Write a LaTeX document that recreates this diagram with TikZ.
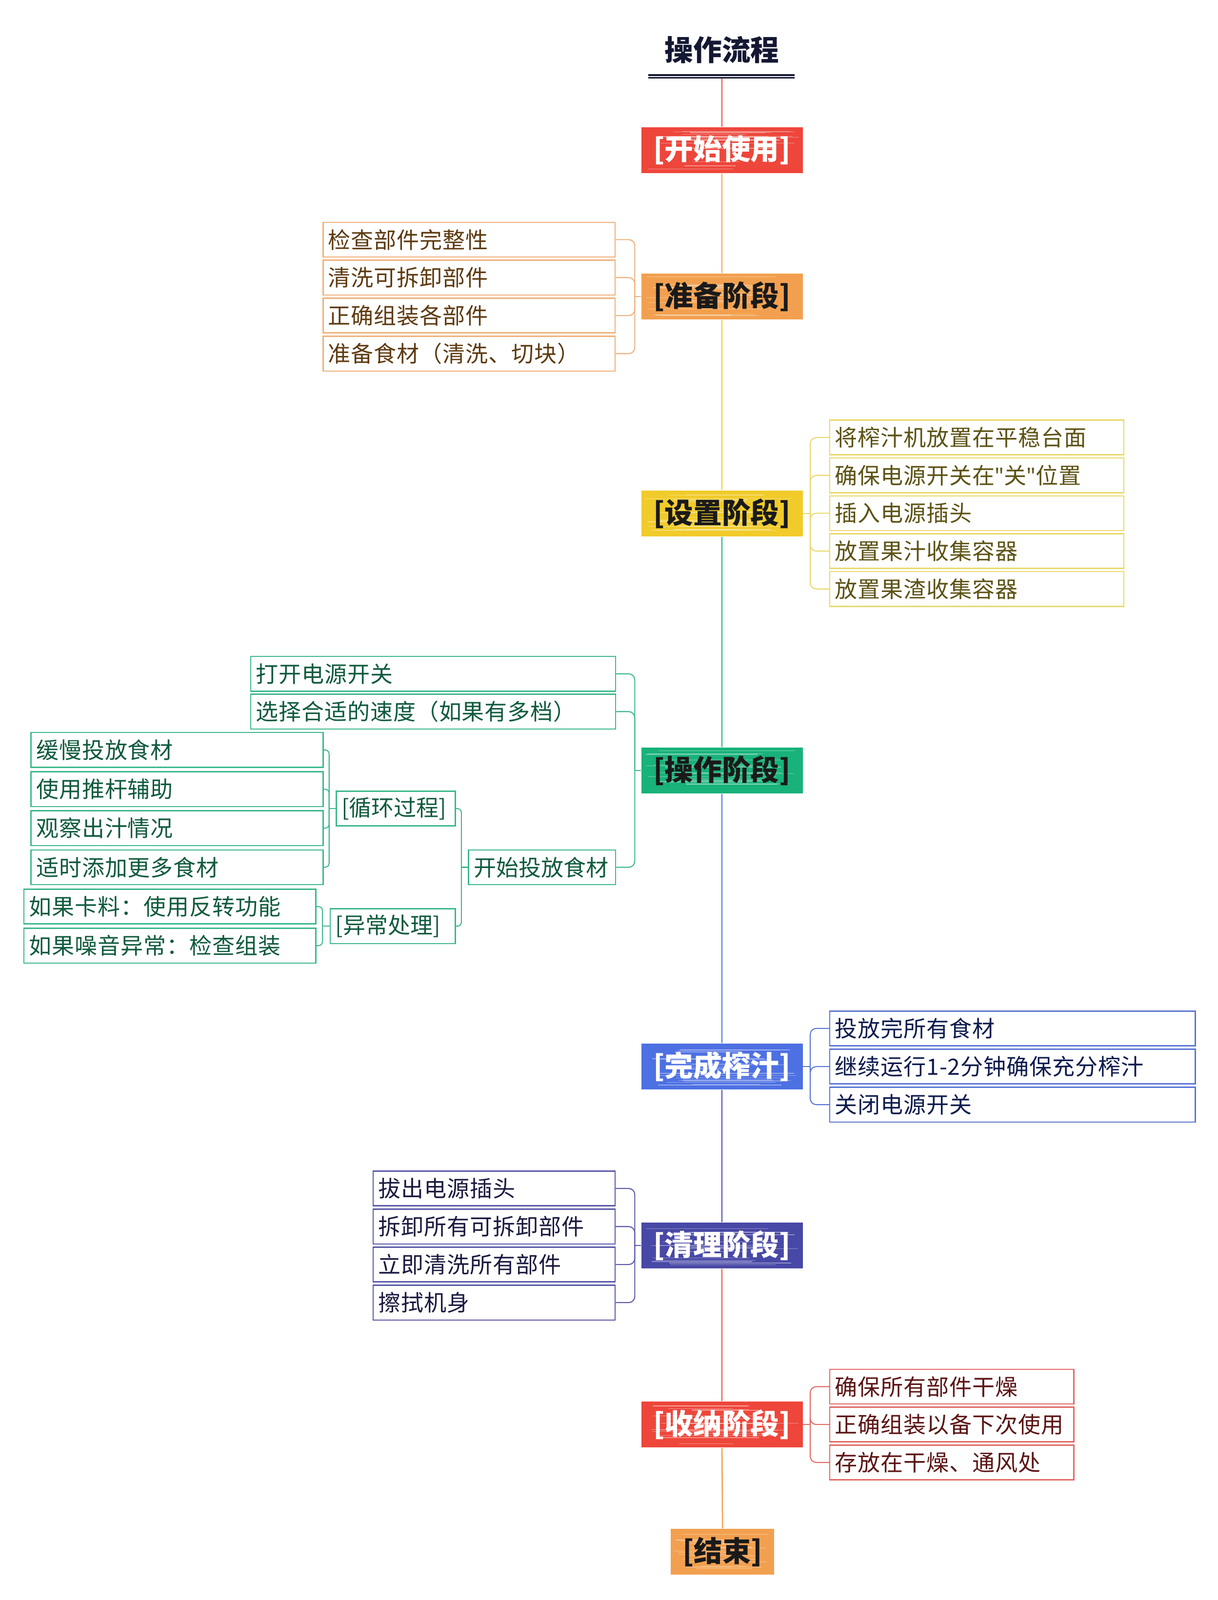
\documentclass[tikz,border=0pt]{standalone}
\usepackage{fontspec}
\setmainfont{Noto Sans CJK SC}
\newfontfamily\latinfont{Noto Sans}
\usetikzlibrary{calc}

\definecolor{cRed}{HTML}{EE463B}
\definecolor{cOrange}{HTML}{F2A04F}
\definecolor{cYellow}{HTML}{F1CB2A}
\definecolor{cGreen}{HTML}{18B27A}
\definecolor{cBlue}{HTML}{4D70E3}
\definecolor{cIndigo}{HTML}{4848A6}
\definecolor{bOrange}{HTML}{F0B07A}
\definecolor{bYellow}{HTML}{EAD86A}
\definecolor{bGreen}{HTML}{3DB88C}
\definecolor{bBlue}{HTML}{5B77D6}
\definecolor{bIndigo}{HTML}{5858A8}
\definecolor{bRed}{HTML}{E26A64}
\definecolor{tOrange}{HTML}{5E3A10}
\definecolor{tYellow}{HTML}{5C5214}
\definecolor{tGreen}{HTML}{0F5A3D}
\definecolor{tBlue}{HTML}{0D1B4D}
\definecolor{tIndigo}{HTML}{1A1A40}
\definecolor{tRed}{HTML}{5C1414}
\definecolor{tTitle}{HTML}{141833}
\definecolor{tDark}{HTML}{1A1A1A}

\newcommand{\qt}{{\latinfont\bfseries "}}

\tikzset{
  streaks/.style={path picture={
    \foreach \k in {1,...,18}{
      \pgfmathsetmacro\yy{0.06+0.88*rnd}
      \pgfmathsetmacro\xa{0.02+0.3*rnd}
      \pgfmathsetmacro\xb{0.55+0.43*rnd}
      \draw[white,opacity=0.4,line width=0.3pt]
        let \p1=(path picture bounding box.south west),
            \p2=(path picture bounding box.north east) in
        ({\x1+\xa*(\x2-(\x1))},{\y1+\yy*(\y2-(\y1))}) -- ({\x1+\xb*(\x2-(\x1))},{\y1+\yy*(\y2-(\y1))});
    }}},
  stage/.style={fill=#1, minimum width=79pt, minimum height=22.5pt, inner sep=0pt,
    font=\fontsize{14pt}{16pt}\selectfont\bfseries, streaks},
  item/.style={draw=#1, fill=white, line width=0.6pt, minimum height=17pt,
    inner xsep=2.5pt, inner ysep=0pt, align=left,
    font=\fontsize{11pt}{13pt}\selectfont\addfontfeature{LetterSpace=2}},
  subhead/.style={font=\fontsize{11pt}{13pt}\selectfont},
  conn/.style={draw=#1, line width=0.5pt},
  trunk/.style={draw=#1, line width=0.6pt}
}

\begin{document}
\begin{tikzpicture}[x=0.5pt,y=-0.5pt]
\useasboundingbox (0,0) rectangle (1192.7,1567.2);

% title
\node[text=tTitle, font=\fontsize{14pt}{16pt}\selectfont\bfseries, inner sep=0pt] (title) at (707,49) {操作流程};
\coordinate (ulA) at (635,73.6);
\coordinate (ulB) at (778,73.6);
\coordinate (ulC) at (635,76.2);
\coordinate (ulD) at (778,76.2);
\draw[tTitle, line width=0.8pt] (ulA) -- (ulB);
\draw[tTitle, line width=0.9pt] (ulC) -- (ulD);
\coordinate (tbase) at (707,77);

% stages
\node[stage=cRed, text=white] (start) at (707,147) {[开始使用]};
\node[stage=cOrange, text=tDark] (prep) at (707,290.5) {[准备阶段]};
\node[stage=cYellow, text=tDark] (setup) at (707,502.9) {[设置阶段]};
\node[stage=cGreen, text=tDark] (op) at (707,754.6) {[操作阶段]};
\node[stage=cBlue, text=white] (comp) at (707,1044.8) {[完成榨汁]};
\node[stage=cIndigo, text=white] (clean) at (707,1220) {[清理阶段]};
\node[stage=cRed, text=white] (stor) at (707,1395.3) {[收纳阶段]};
\node[stage=cOrange, text=tDark, minimum width=50.5pt] (fin) at (707.5,1520) {[结束]};

% trunk
\draw[trunk=cRed] (tbase) -- (start.north);
\draw[trunk=cOrange] (start.south) -- (prep.north);
\draw[trunk=cYellow] (prep.south) -- (setup.north);
\draw[trunk=cGreen] (setup.south) -- (op.north);
\draw[trunk=cBlue] (op.south) -- (comp.north);
\draw[trunk=cIndigo] (comp.south) -- (clean.north);
\draw[trunk=cRed] (clean.south) -- (stor.north);
\draw[trunk=cOrange] (stor.south) -- (fin.north);

% prep items
\begin{scope}[every node/.style={item=bOrange, text=tOrange, text width=138pt, anchor=east}]
\node (p1) at (603,234.7) {检查部件完整性};
\node (p2) at (603,271.9) {清洗可拆卸部件};
\node (p3) at (603,309.1) {正确组装各部件};
\node (p4) at (603,346.4) {准备食材（清洗、切块）};
\end{scope}
\coordinate (jp) at ($(prep.west)+(-6,0)$);
\draw[conn=bOrange] (prep.west) -- (jp);
\foreach \c in {p1,p2,p3,p4}{\draw[conn=bOrange, rounded corners=3pt] (jp) |- (\c.east);}

% setup items
\begin{scope}[every node/.style={item=bYellow, text=tYellow, text width=139pt, anchor=west}]
\node (s1) at (812,428.5) {将榨汁机放置在平稳台面};
\node (s2) at (812,465.6) {确保电源开关在\qt 关\qt 位置};
\node (s3) at (812,502.7) {插入电源插头};
\node (s4) at (812,539.8) {放置果汁收集容器};
\node (s5) at (812,576.9) {放置果渣收集容器};
\end{scope}
\coordinate (js) at ($(setup.east)+(7,0)$);
\draw[conn=bYellow] (setup.east) -- (js);
\foreach \c in {s1,s2,s3,s4,s5}{\draw[conn=bYellow, rounded corners=3pt] (js) |- (\c.west);}

% operation items
\begin{scope}[every node/.style={item=bGreen, text=tGreen, anchor=east}]
\node[text width=173.75pt] (o1) at (603.5,660) {打开电源开关};
\node[text width=173.75pt] (o2) at (603.5,697) {选择合适的速度（如果有多档）};
\node[text width=67pt, subhead] (o3) at (603.5,849.5) {开始投放食材};
\node[text width=53.25pt, subhead] (lp) at (446.5,792) {[循环过程]};
\node[text width=56.25pt, subhead] (ex) at (446.5,907.2) {[异常处理]};
\node[text width=138pt] (l1) at (317,734.5) {缓慢投放食材};
\node[text width=138pt] (l2) at (317,773) {使用推杆辅助};
\node[text width=138pt] (l3) at (317,811.2) {观察出汁情况};
\node[text width=138pt] (l4) at (317,849.5) {适时添加更多食材};
\node[text width=138pt] (e1) at (310,888) {如果卡料：使用反转功能};
\node[text width=138pt] (e2) at (310,926.3) {如果噪音异常：检查组装};
\end{scope}
\coordinate (jo) at ($(op.west)+(-6,0)$);
\draw[conn=bGreen] (op.west) -- (jo);
\foreach \c in {o1,o2,o3}{\draw[conn=bGreen, rounded corners=3pt] (jo) |- (\c.east);}
\coordinate (jo3) at ($(o3.west)+(-6.5,0)$);
\draw[conn=bGreen] (o3.west) -- (jo3);
\foreach \c in {lp,ex}{\draw[conn=bGreen, rounded corners=2pt] (jo3) |- (\c.east);}
\coordinate (jl) at ($(lp.west)+(-6.5,0)$);
\draw[conn=bGreen] (lp.west) -- (jl);
\foreach \c in {l1,l2,l3,l4}{\draw[conn=bGreen, rounded corners=2pt] (jl) |- (\c.east);}
\coordinate (je) at ($(ex.west)+(-7,0)$);
\draw[conn=bGreen] (ex.west) -- (je);
\foreach \c in {e1,e2}{\draw[conn=bGreen, rounded corners=2pt] (je) |- (\c.east);}

% complete items
\begin{scope}[every node/.style={item=bBlue, text=tBlue, text width=174pt, anchor=west}]
\node (c1) at (812,1007.3) {投放完所有食材};
\node (c2) at (812,1044.7) {继续运行1-2分钟确保充分榨汁};
\node (c3) at (812,1082) {关闭电源开关};
\end{scope}
\coordinate (jc) at ($(comp.east)+(7,0)$);
\draw[conn=bBlue] (comp.east) -- (jc);
\foreach \c in {c1,c2,c3}{\draw[conn=bBlue, rounded corners=3pt] (jc) |- (\c.west);}

% clean items
\begin{scope}[every node/.style={item=bIndigo, text=tIndigo, text width=113.5pt, anchor=east}]
\node (k1) at (603,1164.1) {拔出电源插头};
\node (k2) at (603,1201.4) {拆卸所有可拆卸部件};
\node (k3) at (603,1238.6) {立即清洗所有部件};
\node (k4) at (603,1275.9) {擦拭机身};
\end{scope}
\coordinate (jk) at ($(clean.west)+(-6,0)$);
\draw[conn=bIndigo] (clean.west) -- (jk);
\foreach \c in {k1,k2,k3,k4}{\draw[conn=bIndigo, rounded corners=3pt] (jk) |- (\c.east);}

% storage items
\begin{scope}[every node/.style={item=bRed, text=tRed, text width=114.5pt, anchor=west}]
\node (r1) at (812,1358.2) {确保所有部件干燥};
\node (r2) at (812,1395.3) {正确组装以备下次使用};
\node (r3) at (812,1432.5) {存放在干燥、通风处};
\end{scope}
\coordinate (jr) at ($(stor.east)+(7,0)$);
\draw[conn=bRed] (stor.east) -- (jr);
\foreach \c in {r1,r2,r3}{\draw[conn=bRed, rounded corners=3pt] (jr) |- (\c.west);}

\end{tikzpicture}
\end{document}
